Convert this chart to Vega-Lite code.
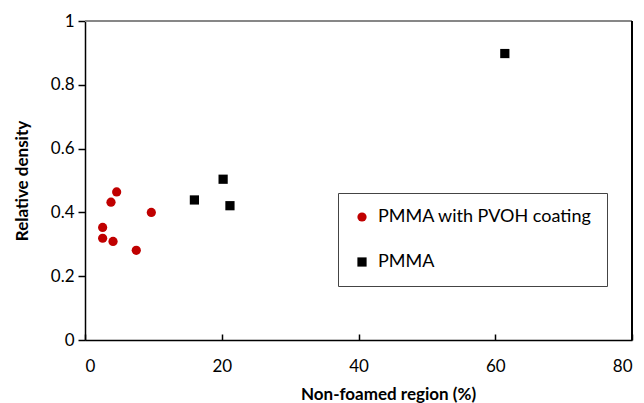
{
  "$schema": "https://vega.github.io/schema/vega-lite/v6.json",
  "width": 547,
  "height": 319,
  "autosize": {"type": "none"},
  "padding": {"left": 85, "top": 21, "right": 12, "bottom": 63},
  "background": "white",
  "config": {
    "view": {"stroke": null},
    "font": "Lato",
    "axis": {"labelFont": "Lato", "titleFont": "Lato", "labelColor": "#000", "titleColor": "#000", "labelFontSize": 17, "titleFontSize": 17, "labelFontWeight": "normal", "titleFontWeight": "bold"}
  },
  "data": {
    "values": [
      {"x": 4.63, "y": 0.464, "series": "PMMA with PVOH coating"},
      {"x": 3.8, "y": 0.432, "series": "PMMA with PVOH coating"},
      {"x": 9.7, "y": 0.40, "series": "PMMA with PVOH coating"},
      {"x": 2.58, "y": 0.353, "series": "PMMA with PVOH coating"},
      {"x": 2.58, "y": 0.319, "series": "PMMA with PVOH coating"},
      {"x": 4.1, "y": 0.309, "series": "PMMA with PVOH coating"},
      {"x": 7.5, "y": 0.281, "series": "PMMA with PVOH coating"},
      {"x": 20.2, "y": 0.504, "series": "PMMA"},
      {"x": 16.0, "y": 0.439, "series": "PMMA"},
      {"x": 21.2, "y": 0.421, "series": "PMMA"},
      {"x": 61.4, "y": 0.898, "series": "PMMA"}
    ]
  },
  "layer": [
    {
      "mark": {"type": "rule", "color": "#878787", "strokeWidth": 1.5},
      "encoding": {"y": {"datum": 1, "type": "quantitative", "scale": {"domain": [0, 1]}}}
    },
    {
      "mark": {"type": "rule", "color": "#000", "strokeWidth": 1.5},
      "encoding": {"x": {"datum": 80, "type": "quantitative", "scale": {"domain": [0, 80]}}}
    },
    {
      "mark": {"type": "point", "filled": true, "opacity": 1, "size": 85},
      "encoding": {
        "x": {
          "field": "x", "type": "quantitative",
          "scale": {"domain": [0, 80], "nice": false, "zero": true},
          "axis": {
            "values": [0, 20, 40, 60, 80], "grid": false, "domainColor": "#000", "domainWidth": 1.5,
            "tickColor": "#000", "tickWidth": 1.5, "tickSize": -6, "labelPadding": 24,
            "title": "Non-foamed region (%)", "titleX": 303, "titleY": 54, "titleBaseline": "middle"
          }
        },
        "y": {
          "field": "y", "type": "quantitative",
          "scale": {"domain": [0, 1], "nice": false},
          "axis": {
            "values": [0, 0.2, 0.4, 0.6, 0.8, 1], "format": "~g", "grid": false, "domainColor": "#000", "domainWidth": 1.5,
            "tickColor": "#000", "tickWidth": 1.5, "tickSize": 7, "labelPadding": 4,
            "title": "Relative density", "titleX": -63, "titleBaseline": "middle"
          }
        },
        "color": {
          "field": "series", "type": "nominal",
          "scale": {"domain": ["PMMA with PVOH coating", "PMMA"], "range": ["#C00000", "#000000"]},
          "legend": {
            "title": null, "orient": "none", "legendX": 253, "legendY": 172,
            "strokeColor": "#444", "padding": 15, "symbolOffset": 0, "rowPadding": 27,
            "labelFont": "Lato", "labelFontSize": 18, "labelColor": "#000", "labelOffset": 7, "labelLimit": 0,
            "symbolSize": 85, "symbolOpacity": 1
          }
        },
        "shape": {
          "field": "series", "type": "nominal",
          "scale": {"domain": ["PMMA with PVOH coating", "PMMA"], "range": ["circle", "square"]}
        }
      }
    }
  ]
}
